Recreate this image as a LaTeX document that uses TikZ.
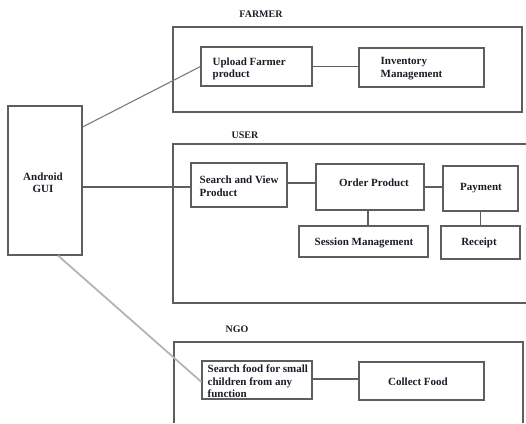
\documentclass[tikz,border=0pt]{standalone}
\usepackage{fontspec}
\setmainfont{Liberation Serif}
\definecolor{boxgray}{HTML}{5E5E5E}
\definecolor{linkgray}{HTML}{7A7A7A}
\definecolor{lightlink}{HTML}{B4B4B4}
\definecolor{inkc}{HTML}{1C1C26}
\begin{document}
\begin{tikzpicture}[x=1pt,y=-1pt,
  bx/.style={draw=boxgray, line width=1.1pt, inner sep=0pt, rectangle},
  tx/.style={inner sep=0pt, text=inkc, font=\fontsize{11}{12.5}\selectfont\bfseries, align=left},
  ctx/.style={inner sep=0pt, text=inkc, font=\fontsize{11}{12.5}\selectfont\bfseries, align=center},
  headlbl/.style={inner sep=0pt, text=inkc, font=\fontsize{10}{12}\selectfont\bfseries},
  conn/.style={draw=boxgray, line width=1.1pt},
  framebox/.style={draw=boxgray, line width=1.1pt}]
\useasboundingbox (0,0) rectangle (526,423);

% group labels
\node[headlbl] (lfarmer) at (261,14) {FARMER};
\node[headlbl] (luser) at (245,135) {USER};
\node[headlbl] (lngo) at (237,329) {NGO};

% frames
\node[bx, minimum width=349pt, minimum height=85pt] (farmerframe) at (347.5,69.5) {};
\draw[framebox] (526,144) -- (173,144) -- (173,303) -- (526,303);
\draw[framebox] (174,423) -- (174,342) -- (523,342) -- (523,423);

% Android
\node[bx, minimum width=74pt, minimum height=149pt] (android) at (45,180.5) {};
\node[ctx] (androidtxt) at (43,182.5) {Android\\GUI};

% Farmer boxes
\node[bx, minimum width=111pt, minimum height=39pt] (upload) at (256.5,66.5) {};
\node[tx, anchor=west] (uploadtxt) at ([xshift=12pt,yshift=-2.5pt]upload.west) {Upload Farmer\\product};
\node[bx, minimum width=125pt, minimum height=39pt] (inventory) at (421.5,67.5) {};
\node[tx, anchor=west] (inventorytxt) at ([xshift=22pt,yshift=-1pt]inventory.west) {Inventory\\Management};

% User boxes
\node[bx, minimum width=96pt, minimum height=44pt] (search) at (239,185) {};
\node[tx, anchor=west] (searchtxt) at ([xshift=9pt,yshift=-1pt]search.west) {Search and View\\Product};
\node[bx, minimum width=108pt, minimum height=46pt] (order) at (370,187) {};
\node[ctx] (ordertxt) at (374,183) {Order Product};
\node[bx, minimum width=75pt, minimum height=45pt] (payment) at (480.5,188.5) {};
\node[ctx] (paymenttxt) at (481,188) {Payment};
\node[bx, minimum width=129pt, minimum height=31pt] (session) at (363.5,241.5) {};
\node[ctx] (sessiontxt) at (364,243) {Session Management};
\node[bx, minimum width=79pt, minimum height=33pt] (receipt) at (480.5,242.5) {};
\node[ctx] (receipttxt) at (479,243) {Receipt};

% NGO boxes
\node[bx, minimum width=110pt, minimum height=38pt] (searchfood) at (257,380) {};
\node[tx, anchor=west] (searchfoodtxt) at ([xshift=6pt,yshift=-1.5pt]searchfood.west) {Search food for small\\children from any\\function};
\node[bx, minimum width=125pt, minimum height=38pt] (collect) at (421.5,381) {};
\node[ctx] (collecttxt) at (418,382) {Collect Food};

% connectors
\draw[draw=linkgray, line width=1.1pt] ([yshift=53.5pt]android.east) -- (upload.west);
\draw[conn] ([yshift=-6.5pt]android.east) -- ([yshift=-6.5pt]android.east -| search.west);
\draw[draw=lightlink, line width=1.8pt] ([xshift=13pt]android.south) -- ([yshift=-2pt]searchfood.west);
\draw[conn] (upload.east) -- (upload.east -| inventory.west);
\draw[conn] ([yshift=2pt]search.east) -- ([yshift=2pt]search.east -| order.west);
\draw[conn] (order.east) -- (order.east -| payment.west);
\draw[conn] ([xshift=-2pt]order.south) -- ([xshift=-2pt]order.south |- session.north);
\draw[conn] (payment.south) -- (payment.south |- receipt.north);
\draw[conn] ([yshift=1pt]searchfood.east) -- ([yshift=1pt]searchfood.east -| collect.west);
\end{tikzpicture}
\end{document}
